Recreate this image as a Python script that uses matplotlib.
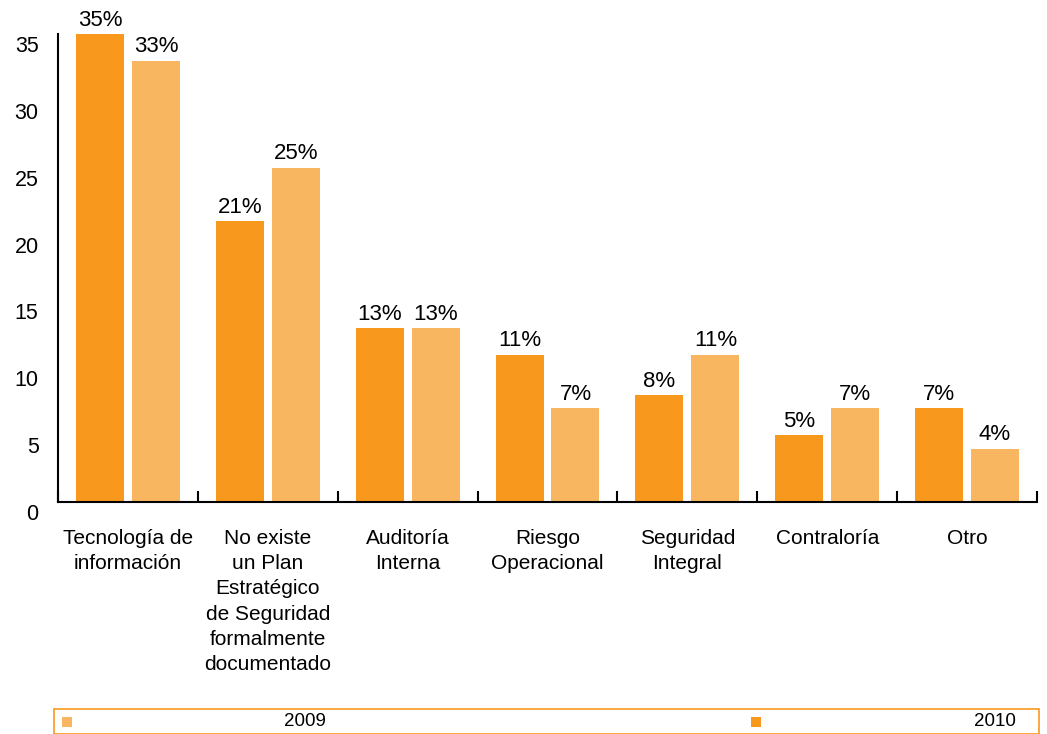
import matplotlib
matplotlib.use("Agg")
import matplotlib.pyplot as plt
import matplotlib.transforms as mtransforms
from matplotlib.patches import Rectangle
import numpy as np

plt.rcParams['font.family'] = ['Liberation Sans', 'DejaVu Sans']

categories = ["Tecnología de\ninformación",
              "No existe\nun Plan\nEstratégico\nde Seguridad\nformalmente\ndocumentado",
              "Auditoría\nInterna", "Riesgo\nOperacional", "Seguridad\nIntegral",
              "Contraloría", "Otro"]
series_dark = [35, 21, 13, 11, 8, 5, 7]
series_light = [33, 25, 13, 7, 11, 7, 4]
legend_labels = ["2009", "2010"]
yticks = [0, 5, 10, 15, 20, 25, 30, 35]

dark = "#F8991D"
light = "#F9B661"

W, H = 1047, 734
fig = plt.figure(figsize=(W/100, H/100), dpi=100)
ax = fig.add_axes([58/W, 1-502/H, (1037-58)/W, (502-34)/H])

n = len(categories)
x = np.arange(n)
bw = 48/140
off = (4+24)/140
b1 = ax.bar(x - off, series_dark, width=bw, color=dark)
b2 = ax.bar(x + off, series_light, width=bw, color=light)
for bars, vals in ((b1, series_dark), (b2, series_light)):
    for r, v in zip(bars, vals):
        ax.annotate(f"{v}%", (r.get_x()+r.get_width()/2, v), xytext=(0, 2.5),
                    textcoords="offset points", ha="center", va="bottom", fontsize=16)

ax.set_xlim(-0.5, n-0.5)
ax.set_ylim(0, 35)
for s in ("top", "right"):
    ax.spines[s].set_visible(False)
ax.spines["left"].set_linewidth(1.5)
ax.spines["bottom"].set_linewidth(1.5)

# y ticks: labels without tick marks, shifted down
ax.set_yticks(yticks)
ax.tick_params(axis="y", length=0, labelsize=15.5, pad=14)
shift = mtransforms.ScaledTranslation(0, -10/100, fig.dpi_scale_trans)
for lab in ax.get_yticklabels():
    lab.set_transform(lab.get_transform() + shift)

# x: boundary ticks pointing inward, labels at centers
ax.set_xticks(np.arange(n+1) - 0.5)
ax.set_xticklabels([])
ax.tick_params(axis="x", direction="in", length=8, width=1.5)
for i, c in enumerate(categories):
    ax.text(i, -2.0, c, ha="center", va="top", fontsize=15, linespacing=1.42,
            transform=ax.transData)

# legend box
fig.patches.append(Rectangle((54/W, 0), (1039-54)/W, (734-709)/H, transform=fig.transFigure,
                             fill=False, edgecolor=dark, linewidth=1.2, clip_on=False))
fig.patches.append(Rectangle((62/W, 1-727/H), 10/W, 10/H, transform=fig.transFigure,
                             facecolor=light, edgecolor="none"))
fig.patches.append(Rectangle((751/W, 1-727/H), 10/W, 10/H, transform=fig.transFigure,
                             facecolor=dark, edgecolor="none"))
fig.text(305/W, 1-722/H, legend_labels[0], ha="center", va="center", fontsize=13.5)
fig.text(995/W, 1-722/H, legend_labels[1], ha="center", va="center", fontsize=13.5)

fig.savefig("out.png", dpi=100)
